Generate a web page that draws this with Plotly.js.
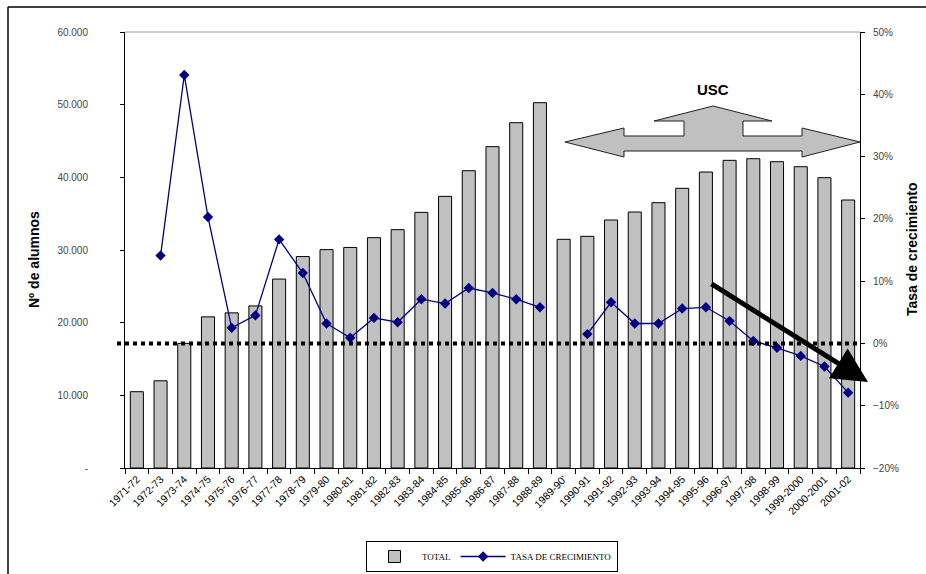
<!DOCTYPE html>
<html>
<head>
<meta charset="utf-8">
<script src="https://cdn.plot.ly/plotly-3.0.1.min.js"></script>
<style>html,body{margin:0;padding:0;background:#fff;}#chart{width:926px;height:574px;}</style>
</head>
<body>
<div id="chart"></div>
<script>
const categories = ["1971-72","1972-73","1973-74","1974-75","1975-76","1976-77","1977-78","1978-79","1979-80","1980-81","1981-82","1982-83","1983-84","1984-85","1985-86","1986-87","1987-88","1988-89","1989-90'","1990-91","1991-92","1992-93","1993-94","1994-95","1995-96","1996-97","1997-98","1998-99","1999-2000","2000-2001","2001-02"];
const totalAlumnos = [10500,12000,17150,20800,21350,22300,26000,29100,30050,30350,31700,32800,35180,37380,40910,44220,47520,50270,31470,31880,34130,35230,36510,38490,40730,42340,42560,42150,41460,39950,36880];
const tasaCrecimiento = [null,14.1,43.1,20.3,2.5,4.5,16.7,11.3,3.2,0.9,4.1,3.4,7.1,6.4,8.9,8.1,7.1,5.8,null,1.5,6.6,3.2,3.2,5.6,5.8,3.6,0.4,-0.7,-2.0,-3.7,-7.9];
const leftTickVals = [0,10000,20000,30000,40000,50000,60000];
const leftTickText = ["-","10.000","20.000","30.000","40.000","50.000","60.000"];
const seriesNames = ["TOTAL","TASA DE CRECIMIENTO"];

const W=926, H=574;
const L=125, R=860, T=32, B=468;
function px(x){return (x-L)/(R-L);}
function py(y){return (B-y)/(B-T);}
function path(pts){return 'M'+pts.map(p=>px(p[0]).toFixed(5)+','+py(p[1]).toFixed(5)).join(' L')+' Z';}

const arrowPts = [[565,142],[624,128],[624,136],[684,136],[684,121],[654,121],[713,106],[772,121],[743,121],[743,136],[802,136],[802,128],[860,142],[802,157],[802,151],[624,151],[624,157]];

const traces = [
  {type:'bar', name:seriesNames[0], x:categories, y:totalAlumnos,
   marker:{color:'#c0c0c0', line:{color:'#000', width:1}}},
  {type:'scatter', mode:'lines+markers', name:seriesNames[1], x:categories, y:tasaCrecimiento, yaxis:'y2',
   connectgaps:false,
   line:{color:'#000080', width:1.3},
   marker:{symbol:'diamond', size:8, color:'#000080'}}
];

const layout = {
  width:W, height:H,
  margin:{l:L, r:W-R, t:T, b:H-B, autoexpand:false},
  paper_bgcolor:'#fff', plot_bgcolor:'#fff',
  font:{family:'Arial, Liberation Sans, sans-serif', color:'#000'},
  bargap:0.45,
  showlegend:true,
  legend:{orientation:'h', xref:'container', yref:'container', x:492/W, xanchor:'center', y:(H-572)/H, yanchor:'bottom',
    bordercolor:'#000', borderwidth:1, font:{family:'Liberation Serif, serif', size:9, color:'#000'},
    traceorder:'normal', itemwidth:45},
  xaxis:{type:'category', range:[-0.5,30.5], automargin:false, showline:true, linecolor:'#000', linewidth:1,
    ticks:'outside', tickson:'boundaries', ticklen:5, tickcolor:'#000',
    tickangle:-45, tickfont:{size:10.5, color:'#000'}, showgrid:false},
  yaxis:{range:[0,60000], automargin:false, tickvals:leftTickVals, ticktext:leftTickText, showline:true, linecolor:'#000', linewidth:1,
    ticks:'outside', ticklen:4, tickcolor:'#000', showgrid:false, zeroline:false,
    tickfont:{size:10, color:'#444'}, ticklabelstandoff:30},
  yaxis2:{range:[-20,50], automargin:false, dtick:10, ticksuffix:'%', overlaying:'y', side:'right', showline:true, linecolor:'#000', linewidth:1,
    ticks:'outside', ticklen:4, tickcolor:'#000', showgrid:false, zeroline:false,
    tickfont:{size:10, color:'#444'}, ticklabelstandoff:6},
  shapes:[
    {type:'line', xref:'paper', yref:'paper', x0:0, x1:1, y0:1, y1:1, line:{color:'#999', width:1}},
    {type:'line', xref:'paper', yref:'paper', x0:px(8), x1:px(930), y0:py(7), y1:py(7), line:{color:'#000', width:1.5}},
    {type:'line', xref:'paper', yref:'paper', x0:px(8), x1:px(8), y0:py(7), y1:py(580), line:{color:'#000', width:1.5}},
    {type:'line', xref:'paper', yref:'y2', x0:px(117), x1:1, y0:0, y1:0, line:{color:'#000', width:4, dash:'dot'}},
    {type:'path', xref:'paper', yref:'paper', path:path(arrowPts), fillcolor:'#c0c0c0', line:{color:'#222', width:1}}
  ],
  annotations:[
    {xref:'paper', yref:'paper', x:px(713), y:py(89), xanchor:'center', yanchor:'middle', text:'<b>USC</b>', showarrow:false, font:{size:15, color:'#000'}},
    {xref:'paper', yref:'paper', x:px(868), y:py(382), ax:710-868, ay:283-382, text:'', showarrow:true,
     arrowhead:2, arrowsize:1.4, arrowwidth:5, arrowcolor:'#000'},
    {xref:'paper', yref:'paper', x:px(34), y:py(260), xanchor:'center', yanchor:'middle', text:'<b>Nº de alumnos</b>', textangle:-90, showarrow:false, font:{size:14, color:'#000'}},
    {xref:'paper', yref:'paper', x:px(912), y:py(249), xanchor:'center', yanchor:'middle', text:'<b>Tasa de crecimiento</b>', textangle:-90, showarrow:false, font:{size:14, color:'#000'}}
  ]
};

Plotly.newPlot('chart', traces, layout, {displayModeBar:false, staticPlot:true});
</script>
</body>
</html>
